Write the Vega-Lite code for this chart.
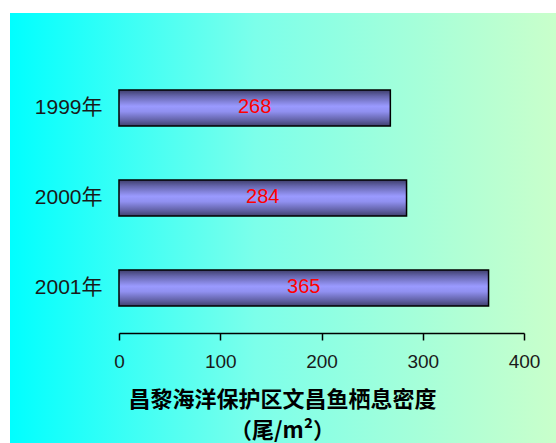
{
  "$schema": "https://vega.github.io/schema/vega-lite/v6.json",
  "width": 546,
  "height": 430,
  "autosize": {"type": "none"},
  "padding": {"left": 10, "top": 13, "right": 0, "bottom": 0},
  "background": "#ffffff",
  "config": {
    "view": {
      "stroke": null,
      "fill": {
        "gradient": "linear",
        "x1": 0, "y1": 0, "x2": 1, "y2": 0,
        "stops": [
          {"offset": 0, "color": "#00ffff"},
          {"offset": 0.45, "color": "#7cffea"},
          {"offset": 1, "color": "#c9ffcb"}
        ]
      }
    },
    "font": "Liberation Sans, Noto Sans CJK SC"
  },
  "data": {
    "values": [
      {"year": "1999年", "density": 268},
      {"year": "2000年", "density": 284},
      {"year": "2001年", "density": 365}
    ]
  },
  "encoding": {
    "y": {
      "field": "year",
      "type": "nominal",
      "sort": ["1999年", "2000年", "2001年"],
      "scale": {"range": [50, 320], "paddingInner": 0.6, "paddingOuter": 0.3},
      "axis": {
        "title": null,
        "orient": "left",
        "offset": -109,
        "domain": false,
        "ticks": false,
        "tickSize": 0,
        "grid": false,
        "labelPadding": 17,
        "labelFontSize": 21,
        "labelColor": "#1a1a1a",
        "labelFont": "Liberation Sans, Noto Sans CJK SC"
      }
    }
  },
  "layer": [
    {
      "mark": {
        "type": "bar",
        "stroke": "#000000",
        "strokeWidth": 1.5,
        "color": {
          "gradient": "linear",
          "x1": 0, "y1": 0, "x2": 0, "y2": 1,
          "stops": [
            {"offset": 0, "color": "#3e3e6c"},
            {"offset": 0.18, "color": "#6868b0"},
            {"offset": 0.45, "color": "#9a9aff"},
            {"offset": 0.6, "color": "#9090f0"},
            {"offset": 0.85, "color": "#6060a4"},
            {"offset": 1, "color": "#40406e"}
          ]
        }
      },
      "encoding": {
        "x": {
          "field": "density",
          "type": "quantitative",
          "scale": {"domain": [0, 400], "range": [109, 514], "nice": false},
          "axis": {
            "orient": "bottom",
            "offset": -110,
            "values": [0, 100, 200, 300, 400],
            "grid": false,
            "labelFlush": false,
            "domainColor": "#000000",
            "domainWidth": 1.5,
            "tickColor": "#000000",
            "tickWidth": 1.5,
            "tickSize": 7,
            "labelFontSize": 19,
            "labelColor": "#1a1a1a",
            "labelPadding": 12,
            "labelFont": "Liberation Sans",
            "title": ["昌黎海洋保护区文昌鱼栖息密度", "（尾/m²）"],
            "titleFont": "Noto Sans CJK SC",
            "titleFontWeight": "bold",
            "titleFontSize": 22,
            "titleColor": "#000000",
            "titleLineHeight": 31,
            "titleAlign": "center",
            "titleBaseline": "top",
            "titleX": 272,
            "titleY": 56
          }
        }
      }
    },
    {
      "transform": [{"calculate": "datum.density / 2", "as": "labelPos"}],
      "mark": {
        "type": "text",
        "color": "#ff0000",
        "fontSize": 20,
        "font": "Liberation Sans",
        "align": "center",
        "baseline": "middle",
        "dy": -1
      },
      "encoding": {
        "x": {"field": "labelPos", "type": "quantitative"},
        "text": {"field": "density", "type": "quantitative"}
      }
    }
  ]
}
